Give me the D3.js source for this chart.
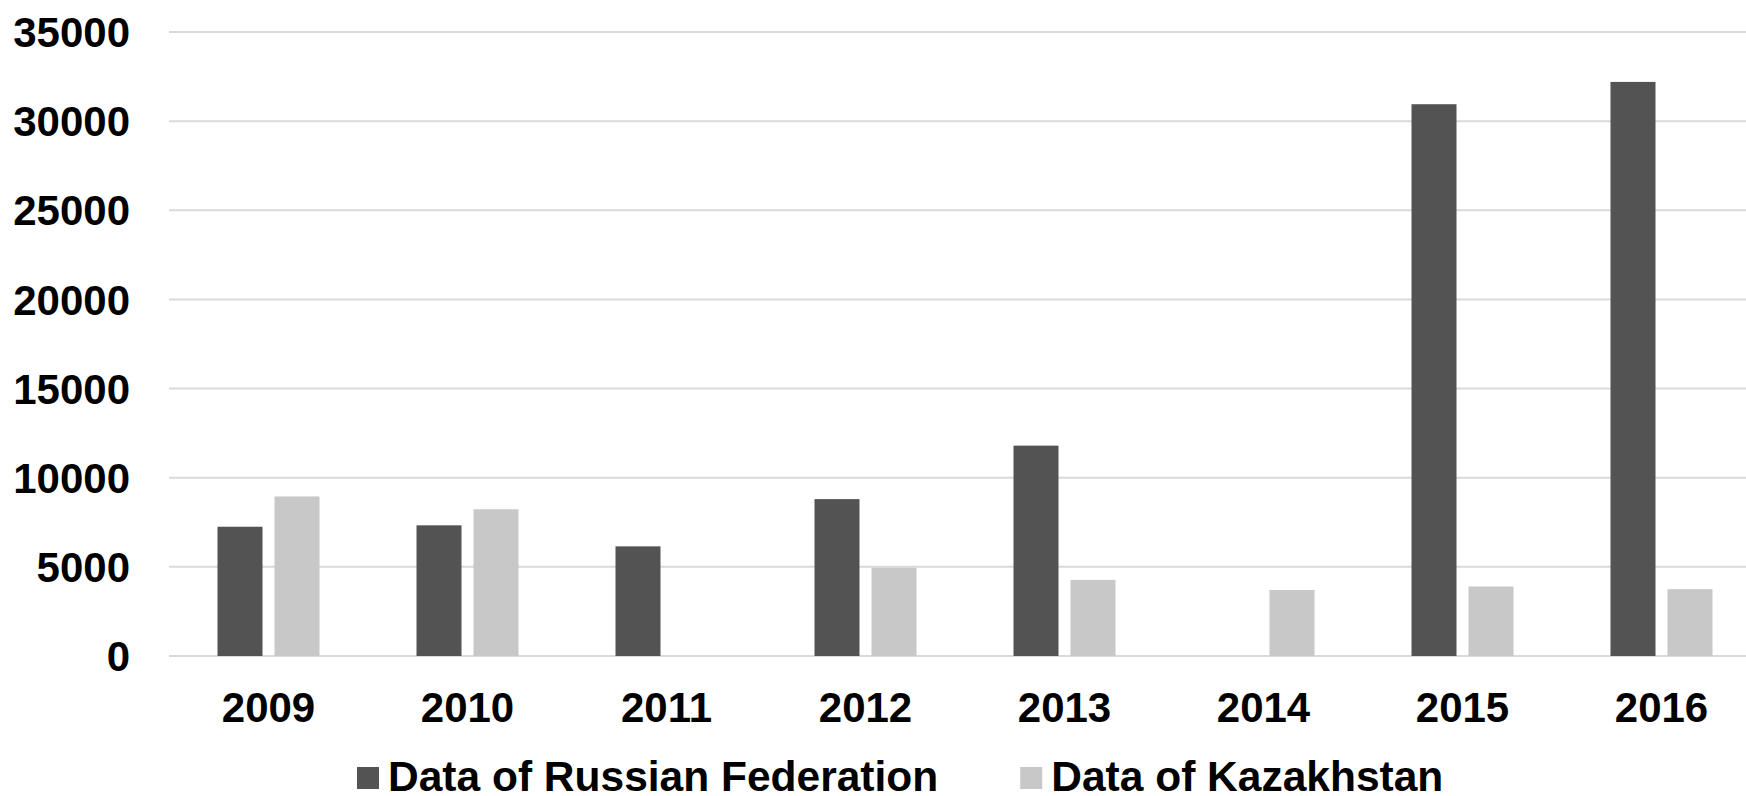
<!DOCTYPE html>
<html>
<head>
<meta charset="utf-8">
<script src="https://cdn.jsdelivr.net/npm/d3@7"></script>
<style>
    html, body { margin: 0; padding: 0; background: #ffffff; }
    svg { display: block; font-family: "Liberation Sans", Arial, sans-serif; }
</style>
</head>
<body>
<svg id="chart"></svg>
<script>
const years = ['2009', '2010', '2011', '2012', '2013', '2014', '2015', '2016'];
const seriesNames = ['Data of Russian Federation', 'Data of Kazakhstan'];
const russia = [7250, 7330, 6150, 8800, 11800, null, 30950, 32200];
const kazakhstan = [8950, 8230, null, 4950, 4270, 3700, 3900, 3750];
const yTicks = [0, 5000, 10000, 15000, 20000, 25000, 30000, 35000];

class GroupedBarChart {

    constructor( config, data ) {
        this.config = {
            parent: config.parent,
            width: config.width || 1746,
            height: config.height || 796,
            plotLeft: config.plotLeft || 169,
            plotRight: config.plotRight || 1761,
            plotTop: config.plotTop || 32,
            plotBottom: config.plotBottom || 656,
            colors: config.colors || ['#535353', '#c8c8c8']
        }
        this.data = data;
        this.init();
    }

    init() {
        let self = this;

        self.svg = d3.select( self.config.parent )
            .attr('width', self.config.width)
            .attr('height', self.config.height);

        self.x0 = d3.scaleBand()
            .domain(years)
            .range([self.config.plotLeft, self.config.plotRight])
            .paddingInner(0.4874)
            .paddingOuter(0.2437);

        self.x1 = d3.scaleBand()
            .domain(seriesNames)
            .range([0, self.x0.bandwidth()])
            .paddingInner(0.2105);

        self.yscale = d3.scaleLinear()
            .domain([0, 35000])
            .range([self.config.plotBottom, self.config.plotTop]);

        self.color = d3.scaleOrdinal()
            .domain(seriesNames)
            .range(self.config.colors);

        self.render();
    }

    render() {
        let self = this;

        // grid lines (the 0 line doubles as the baseline)
        self.svg.append('g')
            .selectAll('line').data(yTicks).enter().append('line')
            .attr('x1', self.config.plotLeft)
            .attr('x2', self.config.plotRight)
            .attr('y1', d => self.yscale(d))
            .attr('y2', d => self.yscale(d))
            .attr('stroke', '#d9d9d9')
            .attr('stroke-width', 2);

        // y axis labels
        const yaxis = d3.axisLeft( self.yscale )
            .tickValues(yTicks)
            .tickFormat(d3.format('d'))
            .tickSize(0)
            .tickPadding(39);

        self.svg.append('g')
            .attr('transform', `translate(${self.config.plotLeft}, 0)`)
            .call(yaxis)
            .call(g => g.select('.domain').remove())
            .selectAll('text')
            .attr('font-family', '"Liberation Sans", Arial, sans-serif')
            .attr('font-size', '42px')
            .attr('font-weight', 'bold')
            .attr('fill', '#000000')
            .attr('dy', '0.35em');

        // bars
        const groups = self.svg.append('g')
            .selectAll('g').data(self.data).enter().append('g')
            .attr('transform', d => `translate(${self.x0(d.year)}, 0)`);

        groups.selectAll('rect')
            .data(d => d.values.filter(v => v.value !== null))
            .enter().append('rect')
            .attr('x', v => self.x1(v.series))
            .attr('width', self.x1.bandwidth())
            .attr('y', v => self.yscale(v.value))
            .attr('height', v => self.yscale(0) - self.yscale(v.value))
            .attr('fill', v => self.color(v.series));

        // x axis labels
        const xaxis = d3.axisBottom( self.x0 )
            .tickSize(0)
            .tickPadding(0);

        self.svg.append('g')
            .attr('transform', `translate(0, ${self.config.plotBottom})`)
            .call(xaxis)
            .call(g => g.select('.domain').remove())
            .selectAll('text')
            .attr('font-family', '"Liberation Sans", Arial, sans-serif')
            .attr('font-size', '42px')
            .attr('font-weight', 'bold')
            .attr('fill', '#000000')
            .attr('y', 66)
            .attr('dy', 0);

        // legend
        const legend = self.svg.append('g')
            .attr('transform', 'translate(357, 791)');

        let xpos = 0;
        seriesNames.forEach((name, i) => {
            const item = legend.append('g')
                .attr('transform', `translate(${xpos}, 0)`);
            item.append('rect')
                .attr('x', 0)
                .attr('y', -24)
                .attr('width', 22)
                .attr('height', 22)
                .attr('fill', self.color(name));
            const label = item.append('text')
                .attr('x', 31)
                .attr('y', 0)
                .attr('font-size', '42.5px')
                .attr('font-weight', 'bold')
                .attr('fill', '#000000')
                .text(name);
            xpos += 31 + label.node().getComputedTextLength() + 82;
        });
    }
}

const tableData = years.map((year, i) => ({
    year: year,
    values: [
        { series: seriesNames[0], value: russia[i] },
        { series: seriesNames[1], value: kazakhstan[i] }
    ]
}));

let chart = new GroupedBarChart({ parent: '#chart', width: 1746, height: 796 }, tableData);
</script>
</body>
</html>
